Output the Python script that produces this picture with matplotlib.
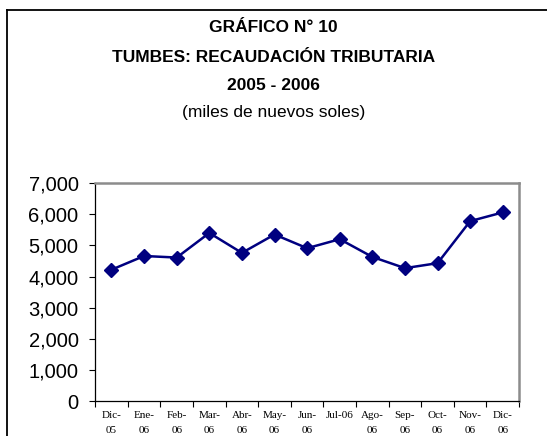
import matplotlib
matplotlib.use("Agg")
import matplotlib.pyplot as plt
from matplotlib.lines import Line2D
import numpy as np

# ── data ──────────────────────────────────────────────────────────────────
meses = ["Dic-\n05", "Ene-\n06", "Feb-\n06", "Mar-\n06", "Abr-\n06", "May-\n06",
         "Jun-\n06", "Jul-06\n", "Ago-\n06", "Sep-\n06", "Oct-\n06", "Nov-\n06", "Dic-\n06"]
recaudacion = [4220, 4660, 4610, 5400, 4760, 5350, 4910, 5200, 4630, 4270, 4430, 5780, 6060]
yticks = [0, 1000, 2000, 3000, 4000, 5000, 6000, 7000]

NAVY = "#000080"
TITLE_FONT = ["Liberation Sans Narrow", "Liberation Sans", "DejaVu Sans"]

fig = plt.figure(figsize=(5.47, 4.36), dpi=100)
fig.patch.set_facecolor("white")
ax = fig.add_axes([0.174, 0.080, 0.775, 0.500])

x = np.arange(len(meses))
ax.plot(x, recaudacion, color=NAVY, lw=1.8, marker="D", markersize=7,
        markerfacecolor=NAVY, markeredgecolor=NAVY, clip_on=False, zorder=3)

ax.set_xlim(-0.5, len(meses) - 0.5)
ax.set_ylim(0, 7000)

# category axis: tick marks on boundaries, labels at centres
ax.set_xticks(np.arange(-0.5, len(meses)), labels=[""] * (len(meses) + 1))
ax.set_xticks(x, labels=meses, minor=True)
ax.tick_params(axis="x", which="major", direction="out", length=4, width=0.8, color="black")
ax.tick_params(axis="x", which="minor", length=0, pad=7)
for lab in ax.get_xticklabels(minor=True):
    lab.set_fontfamily(["Liberation Serif", "DejaVu Serif"])
    lab.set_fontsize(8)
    lab.set_linespacing(1.95)
    lab.set_verticalalignment("top")

ax.set_yticks(yticks, labels=[f"{v:,}" for v in yticks])
ax.tick_params(axis="y", direction="out", length=4, width=0.8, pad=8,
               labelsize=14.5, color="black")
for lab in ax.get_yticklabels():
    lab.set_fontfamily(["Liberation Sans", "DejaVu Sans"])

ax.spines["left"].set_color("black")
ax.spines["bottom"].set_color("black")
ax.spines["left"].set_linewidth(0.9)
ax.spines["bottom"].set_linewidth(0.9)
for s in ("top", "right"):
    ax.spines[s].set_color("#8c8c8c")
    ax.spines[s].set_linewidth(1.8)

# ── titles ────────────────────────────────────────────────────────────────
fig.text(0.5, 1 - 27 / 436, "GRÁFICO N° 10", ha="center", va="center",
         fontsize=12.5, fontweight="bold", family=TITLE_FONT)
fig.text(0.5, 1 - 57 / 436, "TUMBES: RECAUDACIÓN TRIBUTARIA", ha="center", va="center",
         fontsize=12.5, fontweight="bold", family=TITLE_FONT)
fig.text(0.5, 1 - 85 / 436, "2005 - 2006", ha="center", va="center",
         fontsize=12.5, fontweight="bold", family=TITLE_FONT)
fig.text(0.5, 1 - 113 / 436, "(miles de nuevos soles)", ha="center", va="center",
         fontsize=12.5, family=TITLE_FONT)

# outer frame (left and top edges visible)
fig.add_artist(Line2D([7 / 547, 7 / 547], [0, 1 - 10 / 436], color="black", lw=1.3))
fig.add_artist(Line2D([7 / 547, 1], [1 - 10 / 436, 1 - 10 / 436], color="black", lw=1.3))

fig.savefig("out.png", dpi=100, facecolor=fig.get_facecolor())
